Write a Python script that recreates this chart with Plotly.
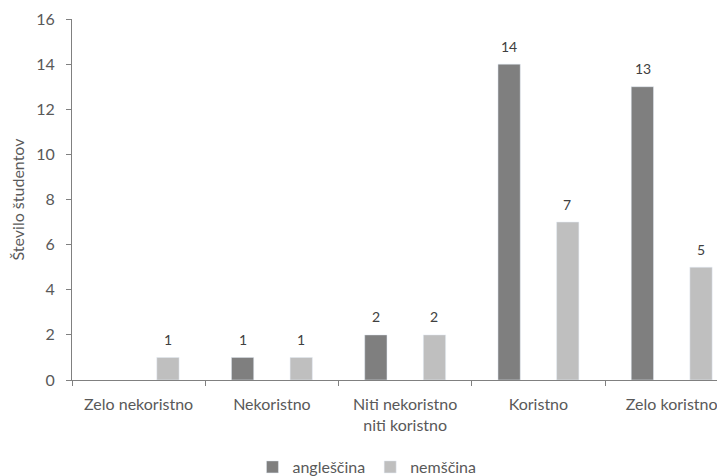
import plotly.graph_objects as go

categories = ["Zelo nekoristno", "Nekoristno", "Niti nekoristno<br>niti koristno", "Koristno", "Zelo koristno"]
anglescina = [None, 1, 2, 14, 13]
nemscina = [1, 1, 2, 7, 5]
y_ticks = [0, 2, 4, 6, 8, 10, 12, 14, 16]

FONT = "Lato"
TXT = "#595959"
fig = go.Figure()
fig.add_trace(go.Bar(name="angleščina", x=categories, y=anglescina, marker_color="#7f7f7f"))
fig.add_trace(go.Bar(name="nemščina", x=categories, y=nemscina, marker_color="#bfbfbf"))

# data labels
for vals, dx in ((anglescina, -29), (nemscina, 29)):
    for c, v in zip(categories, vals):
        if v is None:
            continue
        fig.add_annotation(x=c, y=v, text=str(v), showarrow=False, xshift=dx, yshift=18,
                           yanchor="middle", font=dict(family=FONT, size=14, color="#404040"))

fig.update_layout(
    width=725, height=476,
    margin=dict(l=64, r=0, t=11, b=97),
    paper_bgcolor="white", plot_bgcolor="white",
    font=dict(family=FONT, size=16, color=TXT),
    barmode="group", bargap=0.12, bargroupgap=0.62,
    showlegend=True,
    legend=dict(orientation="h", x=0.273, xref="paper", xanchor="left", y=-0.195, yanchor="top",
                font=dict(size=16, color=TXT), itemwidth=30, traceorder="normal"),
)
fig.update_xaxes(range=[-0.5, 4.46], showline=True, linecolor="#808080", linewidth=1,
                 ticks="outside", tickson="boundaries", ticklen=5, tickcolor="#808080",
                 tickfont=dict(size=16, color=TXT), showgrid=False, automargin=False,
                 ticklabelstandoff=10)
fig.update_yaxes(range=[0, 16], tickvals=y_ticks, showline=True, linecolor="#808080", linewidth=1,
                 ticks="outside", ticklen=5, tickcolor="#808080", showgrid=False, zeroline=False,
                 tickfont=dict(size=16, color=TXT), automargin=False, ticklabelstandoff=8,
                 title=dict(text="Število študentov", font=dict(size=16, color=TXT), standoff=14))

fig.write_html("out.html")
